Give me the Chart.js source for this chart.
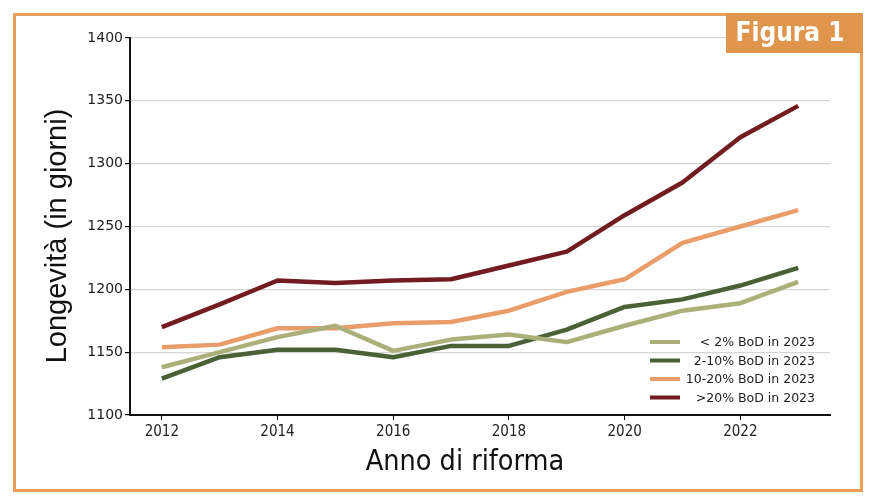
<!DOCTYPE html>
<html>
<head>
<meta charset="utf-8">
<script src="https://cdn.jsdelivr.net/npm/chart.js@4.4.0/dist/chart.umd.min.js"></script>
<style>
  html, body { margin: 0; padding: 0; background: #fff; }
  #wrap { width: 878px; height: 504px; position: relative; }
</style>
</head>
<body>
<div id="wrap"><canvas id="chart" width="878" height="504"></canvas></div>
<script>
// Years and tick labels
const years = [2012, 2013, 2014, 2015, 2016, 2017, 2018, 2019, 2020, 2021, 2022, 2023]
const xTicks = [2012, 2014, 2016, 2018, 2020, 2022]
const yTicks = [1100, 1150, 1200, 1250, 1300, 1350, 1400]

// Series (longevity in days)
const below2 = [1138, 1150, 1162, 1171, 1151, 1160, 1164, 1158, 1171, 1183, 1189, 1206]
const from2to10 = [1129, 1146, 1152, 1152, 1146, 1155, 1155, 1168, 1186, 1192, 1203, 1217]
const from10to20 = [1154, 1156, 1169, 1169, 1173, 1174, 1183, 1198, 1208, 1237, 1250, 1263]
const above20 = [1170, 1188, 1207, 1205, 1207, 1208, 1219, 1230, 1259, 1285, 1321, 1346]

const seriesLabels = ["< 2% BoD in 2023", "2-10% BoD in 2023", "10-20% BoD in 2023", ">20% BoD in 2023"]
const seriesColors = ["#abb07a", "#4a6136", "#e99d6a", "#721c1f"]

const xTitle = "Anno di riforma"
const yTitle = "Longevità (in giorni)"

const toPoints = vals => vals.map((v, i) => ({ x: years[i], y: v }))

// Frame, titles, badge and legend
const framePlugin = {
  id: "frame",
  beforeDraw(chart) {
    const c = chart.ctx
    c.save()
    c.fillStyle = "#fff"
    c.fillRect(0, 0, chart.width, chart.height)
    c.restore()
  },
  afterDraw(chart) {
    const c = chart.ctx
    c.save()
    // orange frame
    c.strokeStyle = "#e8a058"
    c.lineWidth = 3
    c.strokeRect(14.5, 14.5, 847, 476)
    // badge
    c.fillStyle = "#e0954c"
    c.fillRect(726, 13, 137, 40)
    c.fillStyle = "#fff"
    c.font = "bold 26px 'DejaVu Sans Condensed', 'DejaVu Sans'"
    c.textAlign = "center"
    c.textBaseline = "middle"
    c.fillText("Figura 1", 790, 34)
    // axis titles
    c.fillStyle = "#111"
    c.font = "28.5px 'DejaVu Sans Condensed', 'DejaVu Sans'"
    c.fillText(xTitle, 465, 463)
    c.save()
    c.translate(58, 236)
    c.rotate(-Math.PI / 2)
    c.font = "29px 'Liberation Sans', Arial"
    c.fillText(yTitle, 0, 0)
    c.restore()
    // legend
    c.font = "12.5px 'DejaVu Sans'"
    c.textAlign = "right"
    const rowY = [342, 360.5, 379, 397.5]
    chart.data.datasets.forEach((ds, i) => {
      c.strokeStyle = ds.borderColor
      c.lineWidth = 4
      c.beginPath()
      c.moveTo(650, rowY[i])
      c.lineTo(680, rowY[i])
      c.stroke()
      c.fillStyle = "#222"
      c.fillText(ds.label, 815, rowY[i] + 1)
    })
    c.restore()
  }
}

new Chart(document.getElementById("chart"), {
  type: "line",
  data: {
    datasets: seriesLabels.map((label, i) => ({
      label,
      data: toPoints([below2, from2to10, from10to20, above20][i]),
      borderColor: seriesColors[i],
      backgroundColor: seriesColors[i],
      borderWidth: 4.5,
      pointRadius: 0,
      tension: 0,
      borderJoinStyle: "round"
    }))
  },
  options: {
    responsive: false,
    animation: false,
    devicePixelRatio: 1,
    layout: { padding: { top: 38, right: 48, left: 0, bottom: 0 } },
    plugins: { legend: { display: false }, tooltip: { enabled: false } },
    scales: {
      x: {
        type: "linear",
        min: 2011.45,
        max: 2023.55,
        afterFit(scale) { scale.height = 89 },
        afterBuildTicks(scale) { scale.ticks = xTicks.map(v => ({ value: v })) },
        ticks: {
          includeBounds: false,
          callback: v => String(v),
          color: "#222",
          font: { family: "'Liberation Sans Narrow', 'DejaVu Sans Condensed'", size: 15 },
          padding: 3,
          maxRotation: 0
        },
        grid: { drawOnChartArea: false, tickLength: 5, color: "#000", lineWidth: 1 },
        border: { color: "#111", width: 2 }
      },
      y: {
        min: 1100,
        max: 1400,
        afterFit(scale) { scale.width = 130 },
        afterBuildTicks(scale) { scale.ticks = yTicks.map(v => ({ value: v })) },
        ticks: {
          callback: v => String(v),
          color: "#222",
          font: { family: "DejaVu Sans", size: 14 },
          padding: 2
        },
        grid: { color: "#d6d6d6", lineWidth: 1.2, tickColor: "#000", tickLength: 5 },
        border: { color: "#111", width: 2 }
      }
    }
  },
  plugins: [framePlugin]
})
</script>
</body>
</html>
